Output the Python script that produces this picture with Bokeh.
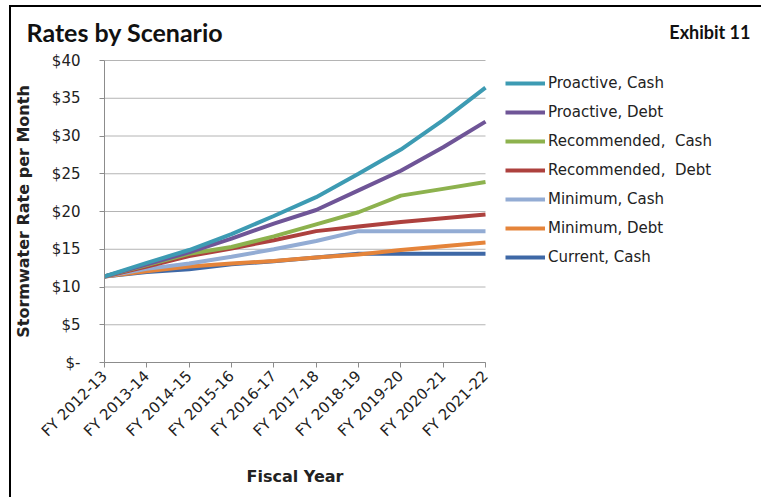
import numpy as np
from bokeh.plotting import figure
from bokeh.models import (FixedTicker, Legend, LegendItem, Label, LinearAxis,
                          Range1d)
from bokeh.embed import file_html
from bokeh.resources import INLINE

years = ["FY 2012-13", "FY 2013-14", "FY 2014-15", "FY 2015-16", "FY 2016-17",
         "FY 2017-18", "FY 2018-19", "FY 2019-20", "FY 2020-21", "FY 2021-22"]

proactive_cash = [11.4, 13.2, 14.9, 17.0, 19.4, 21.9, 25.0, 28.2, 32.1, 36.4]
proactive_debt = [11.4, 13.0, 14.6, 16.4, 18.4, 20.2, 22.8, 25.4, 28.5, 31.9]
recommended_cash = [11.4, 12.9, 14.4, 15.3, 16.7, 18.3, 19.9, 22.1, 23.0, 23.9]
recommended_debt = [11.4, 12.7, 14.1, 15.1, 16.2, 17.4, 18.0, 18.6, 19.1, 19.6]
minimum_cash = [11.4, 12.4, 13.1, 14.0, 15.0, 16.1, 17.4, 17.4, 17.4, 17.4]
minimum_debt = [11.4, 12.1, 12.7, 13.1, 13.45, 13.9, 14.3, 14.9, 15.4, 15.9]
current_cash = [11.4, 12.0, 12.35, 13.0, 13.4, 13.9, 14.4, 14.4, 14.4, 14.4]

series_names = ["Proactive, Cash", "Proactive, Debt", "Recommended,  Cash",
                "Recommended,  Debt", "Minimum, Cash", "Minimum, Debt", "Current, Cash"]
series_values = [proactive_cash, proactive_debt, recommended_cash, recommended_debt,
                 minimum_cash, minimum_debt, current_cash]
series_colors = ["#3d9bb3", "#6f5597", "#8db24e", "#ad413e", "#93acd4", "#e5843a", "#3e68a6"]

y_ticks = [0, 5, 10, 15, 20, 25, 30, 35, 40]
y_tick_labels = ["$-", "$5", "$10", "$15", "$20", "$25", "$30", "$35", "$40"]

chart_title = "Rates by Scenario"
exhibit_text = "Exhibit 11"

FONT = "DejaVu Sans"
W, H = 761, 497

# plot-area placement on the canvas (pixels)
PL, PR, PT, PB = 104, 485, 60, 362
n = len(years)
y_max = y_ticks[-1]
ppx = (PR - PL) / (n - 1)
ppy = (PB - PT) / y_max
x_range = Range1d(-PL / ppx, (W - PL) / ppx)
y_range = Range1d(-(H - PB) / ppy, PB / ppy)

p = figure(width=W, height=H, output_backend="svg", toolbar_location=None,
           x_range=x_range, y_range=y_range,
           x_axis_location=None, y_axis_location=None,
           min_border=0, min_border_left=0, min_border_right=0,
           min_border_top=0, min_border_bottom=0)
p.outline_line_color = None
p.background_fill_alpha = 0
p.border_fill_alpha = 0
p.grid.grid_line_color = None
p.styles = {
    "background-color": "#ffffff",
    "background-image": "linear-gradient(#000,#000), linear-gradient(#000,#000)",
    "background-position": "9px 5px, 9px 5px",
    "background-size": "2px 100%, 100% 2px",
    "background-repeat": "no-repeat, no-repeat",
}

xs = list(range(n))

# horizontal gridlines at the y ticks, across the plot area only
p.segment(x0=[0] * len(y_ticks), x1=[n - 1] * len(y_ticks), y0=y_ticks, y1=y_ticks,
          line_color="#b4b4b4", line_width=1)

for name, vals, col in reversed(list(zip(series_names, series_values, series_colors))):
    p.line(xs, vals, line_color=col, line_width=4)

items = []
for name, vals, col in zip(series_names, series_values, series_colors):
    r = p.line(xs, vals, line_color=col, line_width=4, visible=False)
    items.append(LegendItem(label=name, renderers=[r]))
legend = Legend(items=items, location=(505, H - 267), padding=0, margin=0,
                spacing=9, glyph_height=20, glyph_width=40, label_height=20,
                label_standoff=3, border_line_alpha=0, background_fill_alpha=0,
                label_text_font=FONT, label_text_font_size="15px",
                label_text_color="#222222")
p.add_layout(legend, "center")

xaxis = LinearAxis(fixed_location=0, bounds=(0, n - 1))
xaxis.ticker = FixedTicker(ticks=xs)
xaxis.major_label_overrides = {i: y for i, y in enumerate(years)}
xaxis.major_label_orientation = np.pi / 4
xaxis.major_label_text_font = FONT
xaxis.major_label_text_font_size = "15px"
xaxis.major_label_text_color = "#222222"
xaxis.major_label_standoff = 6
xaxis.minor_tick_line_color = None
xaxis.major_tick_in = 0
xaxis.major_tick_out = 5
xaxis.axis_line_color = "#8c8c8c"
xaxis.major_tick_line_color = "#8c8c8c"
xaxis.axis_label = "Fiscal Year"
xaxis.axis_label_text_font = FONT
xaxis.axis_label_text_font_style = "bold"
xaxis.axis_label_text_font_size = "16px"
xaxis.axis_label_text_color = "#222222"
xaxis.axis_label_standoff = 18
p.add_layout(xaxis, "below")

yaxis = LinearAxis(fixed_location=0, bounds=(0, y_max))
yaxis.ticker = FixedTicker(ticks=y_ticks)
yaxis.major_label_overrides = {t: l for t, l in zip(y_ticks, y_tick_labels)}
yaxis.major_label_text_font = FONT
yaxis.major_label_text_font_size = "15px"
yaxis.major_label_text_color = "#222222"
yaxis.major_label_standoff = 19
yaxis.minor_tick_line_color = None
yaxis.major_tick_in = 0
yaxis.major_tick_out = 5
yaxis.axis_line_color = "#8c8c8c"
yaxis.major_tick_line_color = "#8c8c8c"
yaxis.axis_label = "Stormwater Rate per Month"
yaxis.axis_label_text_font = FONT
yaxis.axis_label_text_font_style = "bold"
yaxis.axis_label_text_font_size = "16px"
yaxis.axis_label_text_color = "#222222"
yaxis.axis_label_standoff = 16
p.add_layout(yaxis, "left")

p.add_layout(Label(x=26, y=H - 31, x_units="screen", y_units="screen",
                   text=chart_title, text_font="Lato", text_font_size="25px",
                   text_font_style="bold", text_color="#111111",
                   text_baseline="middle"))
p.add_layout(Label(x=750, y=H - 31, x_units="screen", y_units="screen",
                   text=exhibit_text, text_font="Lato", text_align="right",
                   text_font_size="18px", text_font_style="bold",
                   text_color="#111111", text_baseline="middle"))

open("out.html", "w").write(file_html(p, INLINE))
